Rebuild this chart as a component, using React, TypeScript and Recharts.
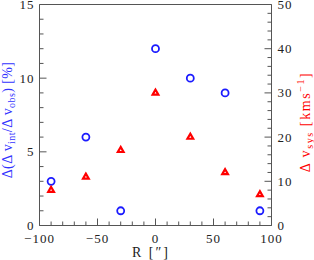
import React from "react";
import { ScatterChart, Scatter, XAxis, YAxis } from "recharts";

// ─── Data ─────────────────────────────────────────────────────────────────────
const radii = [-90, -60, -30, 0, 30, 60, 90];
const ratioDiff = [3, 6, 1, 12, 10, 9, 1]; // left axis, %
const sysDiff = [8, 11, 17, 30, 20, 12, 7]; // right axis, km/s

const xTicks = [-100, -90, -80, -70, -60, -50, -40, -30, -20, -10, 0, 10, 20, 30, 40, 50, 60, 70, 80, 90, 100];
const xMajor = [-100, -50, 0, 50, 100];
const leftTicks = [0, 1, 2, 3, 4, 5, 6, 7, 8, 9, 10, 11, 12, 13, 14, 15];
const leftMajor = [0, 5, 10, 15];
const rightTicks = [0, 2, 4, 6, 8, 10, 12, 14, 16, 18, 20, 22, 24, 26, 28, 30, 32, 34, 36, 38, 40, 42, 44, 46, 48, 50];
const rightMajor = [0, 10, 20, 30, 40, 50];

const blueData = radii.map((r, i) => ({ r, v: ratioDiff[i] }));
const redData = radii.map((r, i) => ({ r, v: sysDiff[i] }));

// ─── Styles ───────────────────────────────────────────────────────────────────
const AXIS = "#555";
const BLUE = "#1c1cff";
const RED = "#ff0000";
const FONT = "Liberation Serif, serif";
const MAJOR = 7;
const MINOR = 4;

const fmt = (v: number) => (v < 0 ? "\u2212" + Math.abs(v) : String(v));

const labelStyle = { fontFamily: FONT, fontSize: 13, fill: "#222", letterSpacing: 1 } as const;

function BottomTick({ x, y, payload }: any) {
  const major = xMajor.includes(payload.value);
  return (
    <g>
      <line x1={x} x2={x} y1={y} y2={y - (major ? MAJOR : MINOR)} stroke={AXIS} />
      {major && (
        <text x={x} y={y + 17} textAnchor="middle" {...labelStyle}>
          {fmt(payload.value)}
        </text>
      )}
    </g>
  );
}

function TopTick({ x, y, payload }: any) {
  const major = xMajor.includes(payload.value);
  return <line x1={x} x2={x} y1={y} y2={y + (major ? MAJOR : MINOR)} stroke={AXIS} />;
}

function LeftTick({ x, y, payload }: any) {
  const major = leftMajor.includes(payload.value);
  return (
    <g>
      <line x1={x} x2={x + (major ? MAJOR : MINOR)} y1={y} y2={y} stroke={AXIS} />
      {major && (
        <text x={x - 5} y={y + 4.5} textAnchor="end" {...labelStyle}>
          {fmt(payload.value)}
        </text>
      )}
    </g>
  );
}

function RightTick({ x, y, payload }: any) {
  const major = rightMajor.includes(payload.value);
  return (
    <g>
      <line x1={x} x2={x - (major ? MAJOR : MINOR)} y1={y} y2={y} stroke={AXIS} />
      {major && (
        <text x={x + 6} y={y + 4.5} textAnchor="start" {...labelStyle}>
          {fmt(payload.value)}
        </text>
      )}
    </g>
  );
}

const Circle = (p: any) => (
  <circle cx={p.cx} cy={p.cy} r={3.5} fill="none" stroke={BLUE} strokeWidth={1.8} />
);

const Triangle = (p: any) => {
  const s = 3.3;
  const pts = `${p.cx},${p.cy - s} ${p.cx - s * 0.866},${p.cy + s * 0.5} ${p.cx + s * 0.866},${p.cy + s * 0.5}`;
  return <polygon points={pts} fill="#fff" stroke={RED} strokeWidth={2.2} strokeLinejoin="miter" />;
};

export default function App() {
  return (
    <div style={{ position: "absolute", left: 0, top: 0, width: 314, height: 260 }}>
      <ScatterChart width={314} height={260} margin={{ top: 0, right: 0, bottom: 0, left: 0 }}>
        <XAxis
          xAxisId="b"
          dataKey="r"
          type="number"
          domain={[-100, 100]}
          ticks={xTicks}
          interval={0}
          allowDataOverflow
          height={34.5}
          tickSize={0}
          tickMargin={0}
          tickLine={false}
          axisLine={{ stroke: AXIS }}
          tick={<BottomTick />}
        />
        <XAxis
          xAxisId="t"
          orientation="top"
          type="number"
          domain={[-100, 100]}
          ticks={xTicks}
          interval={0}
          allowDataOverflow
          height={4.5}
          tickSize={0}
          tickMargin={0}
          tickLine={false}
          axisLine={{ stroke: AXIS }}
          tick={<TopTick />}
        />
        <YAxis
          yAxisId="l"
          dataKey="v"
          type="number"
          domain={[0, 15]}
          ticks={leftTicks}
          interval={0}
          allowDataOverflow
          width={39.5}
          tickSize={0}
          tickMargin={0}
          tickLine={false}
          axisLine={{ stroke: AXIS }}
          tick={<LeftTick />}
        />
        <YAxis
          yAxisId="r"
          orientation="right"
          dataKey="v"
          type="number"
          domain={[0, 50]}
          ticks={rightTicks}
          interval={0}
          allowDataOverflow
          width={42.5}
          tickSize={0}
          tickMargin={0}
          tickLine={false}
          axisLine={{ stroke: AXIS }}
          tick={<RightTick />}
        />
        <Scatter data={blueData} xAxisId="b" yAxisId="l" shape={Circle} isAnimationActive={false} />
        <Scatter data={redData} xAxisId="b" yAxisId="r" shape={Triangle} isAnimationActive={false} />
      </ScatterChart>

      <svg
        width={314}
        height={260}
        style={{ position: "absolute", left: 0, top: 0, pointerEvents: "none" }}
      >
        <text x={151} y={257} textAnchor="middle" fontFamily={FONT} fontSize={14} fill="#222" letterSpacing={2}>
          R [″]
        </text>
        <text
          transform="translate(12,120) rotate(-90)"
          textAnchor="middle"
          fontFamily={FONT}
          fontSize={14}
          fill="#3333ff"
          letterSpacing={0.4}
        >
          Δ(Δ v<tspan fontSize={10} dy={3}>int</tspan>
          <tspan dy={-3}>/Δ v</tspan>
          <tspan fontSize={10} dy={3}>obs</tspan>
          <tspan dy={-3}>) [%]</tspan>
        </text>
        <text
          transform="translate(310,122) rotate(-90)"
          textAnchor="middle"
          fontFamily={FONT}
          fontSize={14}
          fill={RED}
          letterSpacing={1.6}
        >
          Δ v<tspan fontSize={10} dy={3}>sys</tspan>
          <tspan dy={-3}> [kms</tspan>
          <tspan fontSize={10} dy={-6}>−1</tspan>
          <tspan dy={6}>]</tspan>
        </text>
      </svg>
    </div>
  );
}
